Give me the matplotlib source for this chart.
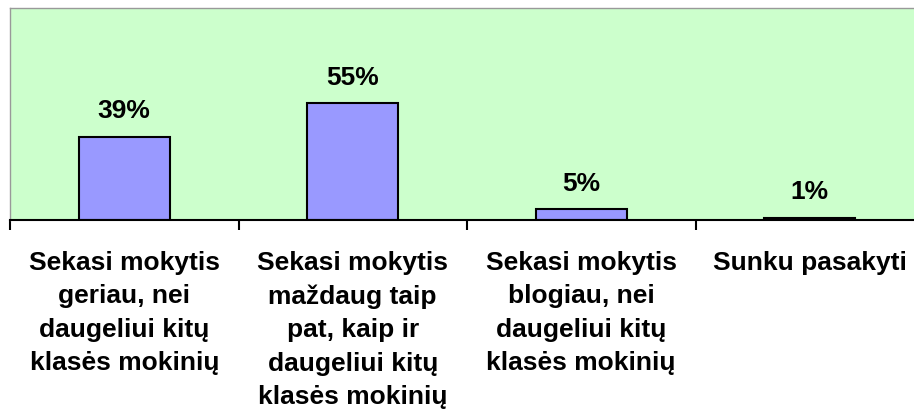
import matplotlib.pyplot as plt
import numpy as np

plt.rcParams['font.family'] = ['Liberation Sans', 'DejaVu Sans']

# category labels and shares (%)
categories = [
    "Sekasi mokytis\ngeriau, nei\ndaugeliui kitų\nklasės mokinių",
    "Sekasi mokytis\nmaždaug taip\npat, kaip ir\ndaugeliui kitų\nklasės mokinių",
    "Sekasi mokytis\nblogiau, nei\ndaugeliui kitų\nklasės mokinių",
    "Sunku pasakyti",
]
values = [39, 55, 5, 1]

fig = plt.figure(figsize=(9.14, 4.12), dpi=100)
# plot area runs past the right edge, as in the original
ax = fig.add_axes([10 / 914, 192 / 412, 914 / 914, 212 / 412])
ax.set_facecolor('#CCFFCC')

x = np.arange(len(values))
bars = ax.bar(x, values, width=0.40, color='#9999FF', edgecolor='black', linewidth=1.5)

for b, v in zip(bars, values):
    ax.annotate(f"{v}%", (b.get_x() + b.get_width() / 2, v),
                xytext=(0, 10), textcoords='offset points',
                ha='center', va='bottom', fontsize=19, fontweight='bold')

ax.set_xlim(-0.5, len(values) - 0.5)
ax.set_ylim(0, 100)
ax.set_yticks([])

# tick marks at category boundaries, labels at centres
ax.set_xticks(np.arange(len(values) + 1) - 0.5)
ax.set_xticklabels([])
ax.tick_params(axis='x', which='major', length=7, width=1.5, color='black', direction='out')
ax.set_xticks(x, minor=True)
ax.set_xticklabels(categories, minor=True, fontsize=19, fontweight='bold',
                   ha='center', va='top', linespacing=1.5)
ax.tick_params(axis='x', which='minor', length=0, pad=22)

for side in ['top', 'left', 'right']:
    ax.spines[side].set_color('#999999')
    ax.spines[side].set_linewidth(1.0)
ax.spines['bottom'].set_color('black')
ax.spines['bottom'].set_linewidth(1.5)

fig.savefig('out.png', dpi=100)
